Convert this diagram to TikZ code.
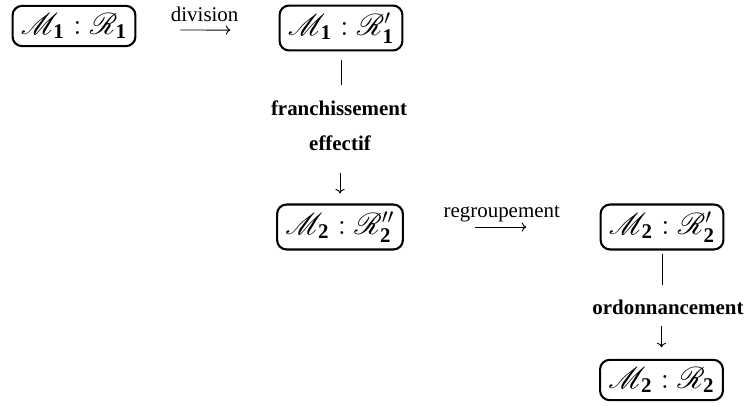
\documentclass[tikz,border=0pt]{standalone}
\usepackage{amsmath}
\usepackage{mathrsfs}
\usepackage{fontspec}
\setmainfont{Liberation Serif}
\usetikzlibrary{arrows.meta}
\newcommand{\bsub}[1]{\textbf{#1}}
\begin{document}
\begin{tikzpicture}[x=0.478pt,y=-0.478pt,
  state/.style={draw, line width=1pt, rounded corners=4.5pt, inner xsep=4pt, inner ysep=3.5pt, font=\Large},
  lab/.style={inner sep=0pt},
  conn/.style={line width=0.45pt},
  arr/.style={conn, -{Computer Modern Rightarrow[length=2.2pt,width=4.4pt]}}
]
\useasboundingbox (0,0) rectangle (744,406);
\node[state] (b1) at (74,26)   {$\mathscr{M}_{\bsub{1}} : \mathscr{R}_{\bsub{1}}$};
\node[state] (b2) at (341,28)  {$\mathscr{M}_{\bsub{1}} : \mathscr{R}'_{\bsub{1}}$};
\node[state] (b3) at (340,227) {$\mathscr{M}_{\bsub{2}} : \mathscr{R}''_{\bsub{2}}$};
\node[state] (b4) at (662,227) {$\mathscr{M}_{\bsub{2}} : \mathscr{R}'_{\bsub{2}}$};
\node[state] (b5) at (661.5,380) {$\mathscr{M}_{\bsub{2}} : \mathscr{R}_{\bsub{2}}$};

\node[lab, font=\bfseries] (fr) at (339,108) {franchissement};
\node[lab, font=\bfseries] (ef) at (340,143) {effectif};
\node[lab, font=\bfseries] (or) at (668,307) {ordonnancement};

\draw[arr, shorten <=21pt, shorten >=23pt] ([yshift=-1.9pt]b1.east) -- ([yshift=-1pt]b2.west)
  node[pos=0.48, anchor=base, yshift=4.2pt] (dv) {division};
\draw[arr, shorten <=34pt, shorten >=35pt] (b3.east) -- (b4.west)
  node[midway, anchor=base, yshift=4.6pt] (rg) {regroupement};

\draw[conn, shorten <=4pt, shorten >=7pt] (b2.south) -- (b2.south |- fr.north);
\draw[arr, shorten <=10.5pt, shorten >=4.8pt] (ef.south) -- (ef.south |- b3.north);
\draw[conn, shorten <=1.5pt, shorten >=7pt] (b4.south) -- (b4.south |- or.north);
\draw[arr, shorten <=5.5pt, shorten >=5.5pt] (b5.north |- or.south) -- (b5.north);
\end{tikzpicture}
\end{document}
